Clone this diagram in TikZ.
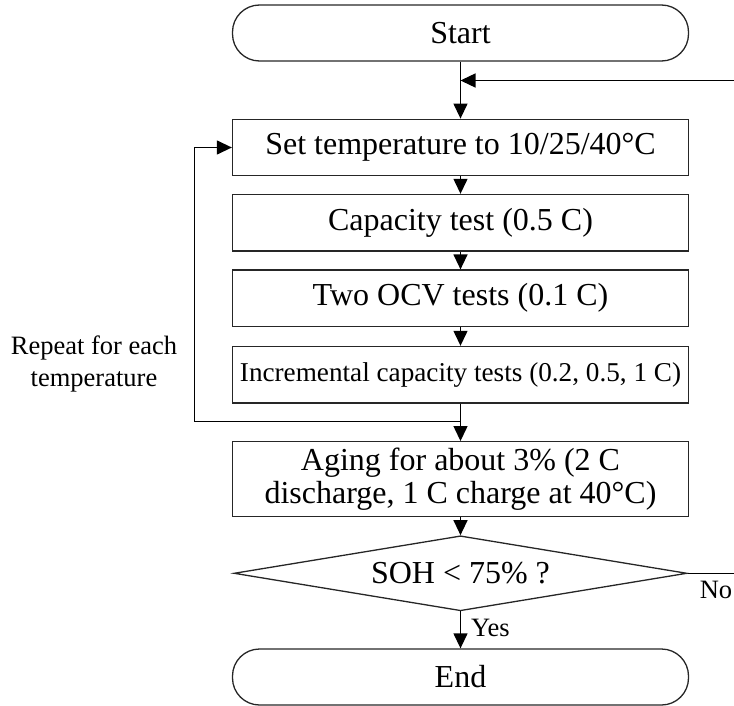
\documentclass[tikz,border=0pt]{standalone}
\usepackage{fontspec}
\setmainfont{Liberation Serif}
\usetikzlibrary{arrows.meta,shapes.geometric}
\begin{document}
\begin{tikzpicture}[x=1pt,y=-1pt,
  base/.style={draw=black!85,line width=1.3pt,inner sep=0pt,align=center,
    font=\fontsize{32}{33}\selectfont},
  stepbox/.style={base,rectangle,minimum width=456pt,minimum height=56.5pt},
  term/.style={base,rectangle,rounded corners=27pt,minimum width=456pt,minimum height=56pt},
  decbox/.style={base,diamond,aspect=6.04,minimum width=453pt,minimum height=75pt},
  arr/.style={line width=1.3pt,-{Triangle[length=15pt,width=14pt]}},
  conn/.style={line width=1.3pt},
  lbl/.style={font=\fontsize{26.5}{32}\selectfont,align=center,inner sep=0pt}]
\useasboundingbox (0,0) rectangle (734,706);
\node[term]   (start) at (460.5,33)    {Start};
\node[stepbox] (set)  at (460.5,147.5) {Set temperature to 10/25/40°C};
\node[stepbox] (cap)  at (460.5,222.7) {Capacity test (0.5 C)};
\node[stepbox] (ocv)  at (460.5,298.3) {Two OCV tests (0.1 C)};
\node[stepbox,font=\fontsize{27.2}{30}\selectfont] (inc) at (460.5,374.7) {Incremental capacity tests (0.2, 0.5, 1 C)};
\node[stepbox,minimum height=75pt] (age) at (460.5,479.2) {Aging for about 3\% (2 C\\discharge, 1 C charge at 40°C)};
\node[decbox] (dec) at (460.5,573.3) {SOH < 75\% ?};
\node[term]   (end) at (460.5,677)   {End};
\node[lbl] (rep) at (94,364) {Repeat for each\\temperature};
\coordinate (ret) at (734,80.5);
\coordinate (noend) at (734,573.3);
\coordinate (j) at (460.5,421.7);
\coordinate (lp) at (194.3,421.7);
\draw[arr] (start.south) -- (set.north);
\draw[arr] (ret) -- (ret -| start.south);
\draw[arr] (set.south) -- (cap.north);
\draw[arr] (cap.south) -- (ocv.north);
\draw[arr] (ocv.south) -- (inc.north);
\draw[arr] (inc.south) -- (age.north);
\draw[arr] (j) -- (lp) |- (set.west);
\draw[arr] (age.south) -- (dec.north);
\draw[arr] (dec.south) -- node[lbl,right=10pt,pos=0.45] (yes) {Yes} (end.north);
\draw[conn] (dec.east) -- (noend);
\node[lbl] (no) at (716,590) {No};
\end{tikzpicture}
\end{document}
